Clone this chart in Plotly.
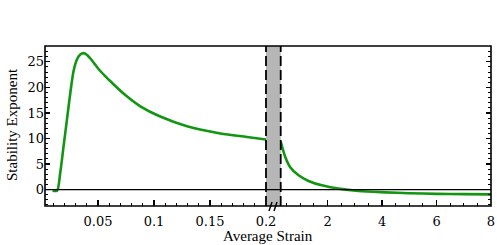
import plotly.graph_objects as go

# ---- data ----
left_x = [0.0095, 0.0134, 0.0163, 0.0193, 0.0223, 0.0253, 0.0282, 0.0313, 0.0340,
          0.0371, 0.0400, 0.0430, 0.0470, 0.0505, 0.0560, 0.0625, 0.0744, 0.0878,
          0.1056, 0.1295, 0.1592, 0.1830, 0.2000]
left_y = [-0.2, -0.2, 3.3, 8.5, 13.7, 18.9, 23.2, 25.5, 26.4,
          26.7, 26.4, 25.7, 24.6, 23.6, 22.3, 20.9, 18.5, 16.3,
          14.3, 12.4, 11.0, 10.3, 9.8]

right_x = [0.28, 0.447, 0.63, 0.935, 1.30, 1.79, 2.40, 3.14, 4.12, 5.0, 6.0, 7.0, 8.0]
right_y = [9.4, 6.4, 4.4, 2.8, 1.7, 0.84, 0.2, -0.27, -0.53, -0.7, -0.82, -0.88, -0.92]

left_ticks = [0.05, 0.1, 0.15, 0.2]
left_tick_text = ["0.05", "0.1", "0.15", "0.2"]
right_ticks = [2, 4, 6, 8]
right_tick_text = ["2", "4", "6", "8"]
y_ticks = [0, 5, 10, 15, 20, 25]
y_tick_text = ["0", "5", "10", "15", "20", "25"]

x_title = "Average Strain"
y_title = "Stability Exponent"

# ---- style ----
GREEN = "#129612"
FONT = "Liberation Serif"
TICKFONT = "DejaVu Serif"
W, H = 497, 245
ML, MR, MT, MB = 45, 6, 46, 39
D1, D2 = 0.4955, 0.5285

fig = go.Figure()
fig.add_trace(go.Scatter(x=left_x, y=left_y, mode="lines",
                         line=dict(color=GREEN, width=2.6, shape="spline", smoothing=0.8),
                         xaxis="x", yaxis="y", hoverinfo="skip", showlegend=False))
fig.add_trace(go.Scatter(x=right_x, y=right_y, mode="lines",
                         line=dict(color=GREEN, width=2.6, shape="spline", smoothing=0.8),
                         xaxis="x2", yaxis="y2", hoverinfo="skip", showlegend=False))

common = dict(showgrid=False, zeroline=False, showline=False, automargin=False,
              ticks="inside", tickcolor="black", tickwidth=1.2,
              tickfont=dict(family=TICKFONT, size=13, color="black"))

fig.update_layout(
    template="none",
    width=W, height=H,
    margin=dict(l=ML, r=MR, t=MT, b=MB, pad=0),
    paper_bgcolor="white", plot_bgcolor="white",
    font=dict(family=FONT, size=15, color="black"),
    xaxis=dict(domain=[0, D1], range=[0.0027, 0.2], anchor="y",
               tickvals=left_ticks, ticktext=left_tick_text, ticklen=6,
               ticklabelstandoff=6,
               minor=dict(ticks="inside", dtick=0.01, tick0=0, ticklen=3,
                          tickcolor="black", tickwidth=1),
               **common),
    xaxis2=dict(domain=[D2, 1], range=[0.28, 8], anchor="y",
                tickvals=right_ticks, ticktext=right_tick_text, ticklen=6,
                ticklabelstandoff=6,
                minor=dict(ticks="inside", dtick=0.5, tick0=0, ticklen=3,
                           tickcolor="black", tickwidth=1),
                **common),
    yaxis=dict(domain=[0, 1], range=[-3.2, 28.1], anchor="x",
               tickvals=y_ticks, ticktext=y_tick_text, ticklen=5,
               minor=dict(ticks="inside", dtick=1, tick0=0, ticklen=3,
                          tickcolor="black", tickwidth=1),
               **common),
    yaxis2=dict(domain=[0, 1], matches="y", anchor="x2", side="right",
                showticklabels=False, ticklen=5,
                tickvals=y_ticks,
                minor=dict(ticks="inside", dtick=1, tick0=0, ticklen=3,
                           tickcolor="black", tickwidth=1),
                **common),
)

shapes = [
    # gray break band
    dict(type="rect", xref="paper", yref="paper", x0=D1, x1=D2, y0=0, y1=1,
         fillcolor="#b6b6b6", line=dict(width=0), layer="below"),
    # zero line
    dict(type="line", xref="paper", yref="y", x0=0, x1=1, y0=0, y1=0,
         line=dict(color="black", width=1.4)),
    # dashed band edges
    dict(type="line", xref="paper", yref="paper", x0=D1, x1=D1, y0=0, y1=1,
         line=dict(color="black", width=1.8, dash="10px,4px")),
    dict(type="line", xref="paper", yref="paper", x0=D2, x1=D2, y0=0, y1=1,
         line=dict(color="black", width=1.8, dash="10px,4px")),
    # frame
    dict(type="rect", xref="paper", yref="paper", x0=0, x1=1, y0=0, y1=1,
         line=dict(color="black", width=1.6), fillcolor="rgba(0,0,0,0)"),
]
# axis break marker "//"
pw = W - ML - MR
ph = H - MT - MB
for px0 in (269.0, 274.0):
    shapes.append(dict(type="line", xref="paper", yref="paper",
                       x0=(px0 - ML) / pw, x1=(px0 + 3 - ML) / pw,
                       y0=-5 / ph, y1=4 / ph,
                       line=dict(color="black", width=1.4)))
fig.update_layout(shapes=shapes)

fig.add_annotation(text=x_title, xref="paper", yref="paper",
                   x=(268 - ML) / pw, y=-(236 - (H - MB)) / ph,
                   xanchor="center", yanchor="middle", showarrow=False,
                   font=dict(family=FONT, size=15, color="black"))
fig.add_annotation(text=y_title, xref="paper", yref="paper",
                   x=(12 - ML) / pw, y=((H - MB) - 125) / ph, textangle=-90,
                   xanchor="center", yanchor="middle", showarrow=False,
                   font=dict(family=FONT, size=15, color="black"))

fig.write_html("out.html", config={"displayModeBar": False, "staticPlot": True},
               post_script="document.body.style.margin='0';document.body.style.overflow='hidden';")
